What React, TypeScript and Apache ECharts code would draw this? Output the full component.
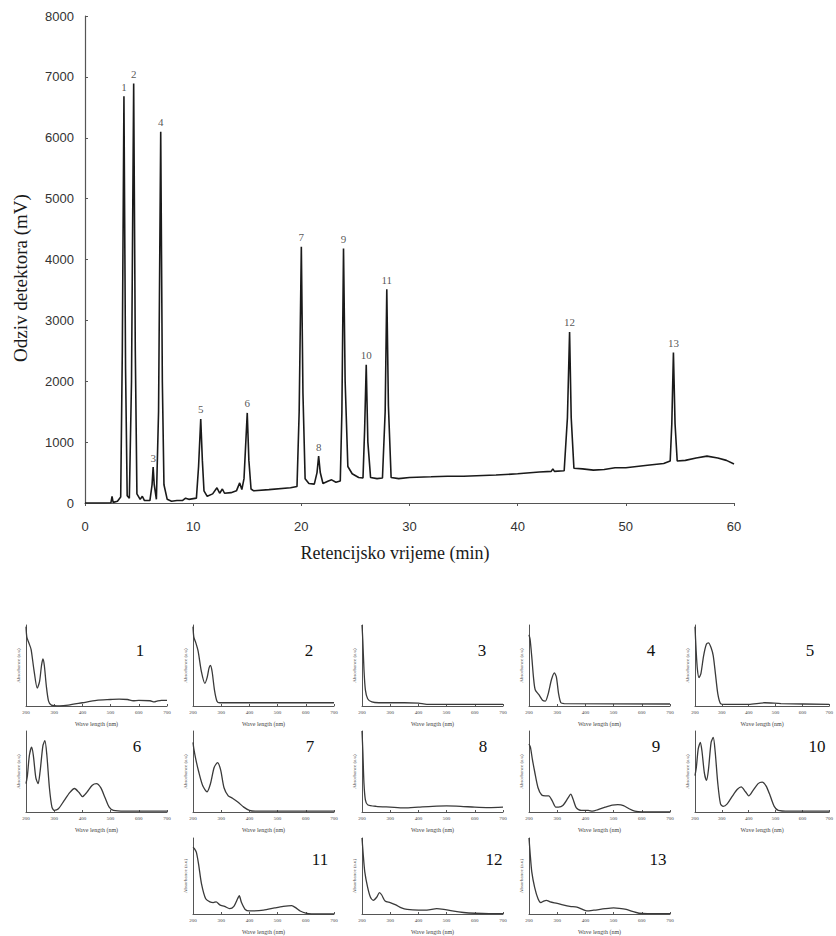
import React, { useEffect, useRef } from "react";
import * as echarts from "echarts";

// ---------- Chromatogram ----------
const chromTitleX = "Retencijsko vrijeme (min)";
const chromTitleY = "Odziv detektora (mV)";
const chromatogram: [number, number][] = [
  [0, 0], [1.8, 0], [2.4, 5], [2.5, 110], [2.6, 10], [3.0, 30], [3.3, 100], [3.45, 2500], [3.6, 6680], [3.75, 2200],
  [3.9, 120], [4.1, 80], [4.3, 2000], [4.5, 6890], [4.65, 2500], [4.8, 150], [5.1, 60], [5.3, 110], [5.5, 40], [6.0, 40],
  [6.2, 300], [6.3, 590], [6.4, 300], [6.6, 60], [6.8, 1500], [7.0, 6100], [7.15, 2000], [7.3, 300], [7.6, 60], [8.0, 30],
  [8.5, 40], [9.0, 40], [9.3, 80], [9.6, 60], [10.3, 80], [10.5, 600], [10.7, 1380], [10.85, 700], [11.0, 200], [11.3, 110],
  [11.8, 150], [12.2, 250], [12.45, 160], [12.7, 230], [12.9, 160], [13.5, 170], [14.0, 200], [14.3, 330], [14.5, 220], [14.7, 400],
  [15.0, 1480], [15.15, 700], [15.35, 230], [15.6, 200], [17, 220], [19, 250], [19.6, 270], [19.8, 1500], [20.0, 4210], [20.15, 1800],
  [20.35, 400], [20.7, 320], [21.2, 310], [21.45, 500], [21.6, 770], [21.75, 500], [22.0, 320], [22.5, 360], [22.8, 380], [23.2, 340],
  [23.6, 360], [23.75, 1500], [23.9, 4180], [24.05, 2000], [24.3, 600], [24.7, 480], [25.3, 420], [25.7, 410], [25.85, 1200], [26.0, 2270],
  [26.15, 1000], [26.4, 420], [27.0, 400], [27.5, 410], [27.75, 1500], [27.9, 3510], [28.05, 1600], [28.3, 420], [29, 400], [30, 420],
  [32, 430], [33.5, 440], [35, 440], [38, 460], [40, 480], [42, 510], [43.1, 520], [43.25, 560], [43.4, 520], [44.3, 530],
  [44.6, 1400], [44.8, 2810], [44.95, 1400], [45.2, 570], [46, 560], [47, 540], [48, 550], [49, 580], [50, 580], [52, 620],
  [53.5, 650], [54.1, 690], [54.25, 1300], [54.4, 2470], [54.55, 1300], [54.75, 690], [55.5, 700], [56.5, 740], [57.5, 770], [58.5, 740],
  [59.3, 700], [60, 640],
];
const peakNames = ["1", "2", "3", "4", "5", "6", "7", "8", "9", "10", "11", "12", "13"];
const peakTimes = [3.6, 4.5, 6.3, 7.0, 10.7, 15.0, 20.0, 21.6, 23.9, 26.0, 27.9, 44.8, 54.4];
const peakHeights = [6680, 6890, 590, 6100, 1380, 1480, 4210, 770, 4180, 2270, 3510, 2810, 2470];

// ---------- UV spectra (wavelength nm, relative absorbance) ----------
const spectrumTitleX = "Wave length (nm)";
const spectrumTitleY = "Absorbance (a.u)";
const spectrum1 = [[200,0.98],[203,0.85],[210,0.78],[218,0.7],[228,0.45],[240,0.22],[248,0.3],[255,0.5],[260,0.58],[265,0.5],[272,0.25],[280,0.06],[290,0.01],[320,0],[350,0.01],[400,0.04],[450,0.07],[500,0.08],[530,0.085],[560,0.08],[580,0.065],[600,0.07],[640,0.065],[655,0.05],[665,0.06],[680,0.07],[700,0.07]];
const spectrum2 = [[200,0.98],[203,0.85],[210,0.78],[218,0.68],[230,0.42],[242,0.28],[250,0.35],[257,0.47],[262,0.5],[268,0.42],[276,0.2],[285,0.06],[295,0.04],[400,0.04],[700,0.04]];
const spectrum3 = [[200,1.0],[203,0.8],[207,0.45],[212,0.2],[220,0.09],[235,0.05],[260,0.04],[350,0.04],[400,0.035],[430,0.02],[700,0.02]];
const spectrum4 = [[200,0.88],[204,0.82],[210,0.6],[216,0.35],[222,0.2],[235,0.14],[248,0.07],[258,0.06],[268,0.15],[280,0.33],[290,0.41],[297,0.36],[305,0.15],[313,0.04],[325,0.03],[700,0.025]];
const spectrum5 = [[200,0.98],[204,0.7],[209,0.45],[215,0.35],[222,0.4],[232,0.62],[242,0.76],[250,0.78],[260,0.72],[268,0.62],[276,0.4],[285,0.15],[295,0.03],[310,0.02],[400,0.02],[460,0.04],[520,0.03],[700,0.02]];
const spectrum6 = [[200,0.35],[205,0.45],[212,0.7],[220,0.8],[226,0.7],[235,0.42],[243,0.35],[250,0.5],[260,0.82],[267,0.88],[274,0.7],[283,0.3],[292,0.06],[300,0.02],[315,0.04],[335,0.14],[355,0.24],[372,0.29],[388,0.24],[400,0.19],[415,0.24],[435,0.33],[450,0.35],[465,0.3],[480,0.18],[495,0.06],[510,0.02],[550,0.01],[700,0.01]];
const spectrum7 = [[200,0.86],[203,0.78],[210,0.65],[220,0.5],[235,0.32],[250,0.25],[262,0.35],[275,0.55],[287,0.61],[298,0.52],[310,0.3],[325,0.2],[340,0.17],[360,0.12],[380,0.06],[400,0.02],[420,0.01],[700,0.01]];
const spectrum8 = [[200,1.0],[203,0.75],[207,0.35],[212,0.15],[220,0.09],[250,0.07],[300,0.06],[350,0.05],[400,0.06],[450,0.07],[500,0.075],[550,0.07],[600,0.06],[650,0.055],[700,0.06]];
const spectrum9 = [[200,0.84],[205,0.8],[212,0.65],[220,0.5],[232,0.3],[245,0.21],[258,0.2],[270,0.2],[282,0.14],[295,0.06],[305,0.06],[320,0.08],[338,0.17],[348,0.22],[356,0.16],[368,0.05],[385,0.02],[410,0.02],[425,0.01],[445,0.03],[470,0.06],[495,0.085],[515,0.09],[535,0.08],[555,0.04],[575,0.01],[600,0],[700,0]];
const spectrum10 = [[200,0.45],[205,0.55],[212,0.78],[220,0.86],[226,0.75],[235,0.48],[243,0.39],[250,0.52],[260,0.86],[268,0.92],[275,0.75],[285,0.35],[295,0.1],[305,0.07],[320,0.1],[340,0.2],[358,0.28],[372,0.31],[388,0.25],[400,0.2],[415,0.26],[435,0.35],[450,0.37],[465,0.32],[480,0.2],[495,0.07],[510,0.02],[550,0.01],[700,0.01]];
const spectrum11 = [[200,0.88],[205,0.86],[212,0.81],[220,0.65],[230,0.4],[245,0.2],[260,0.16],[272,0.15],[282,0.16],[295,0.12],[312,0.1],[330,0.07],[345,0.1],[358,0.2],[364,0.24],[372,0.15],[385,0.06],[400,0.04],[450,0.05],[490,0.08],[520,0.1],[550,0.11],[565,0.08],[580,0.04],[600,0.01],[620,0],[700,0]];
const spectrum12 = [[200,1.0],[204,0.8],[210,0.55],[220,0.35],[230,0.22],[240,0.18],[252,0.22],[262,0.28],[270,0.25],[282,0.17],[300,0.15],[320,0.12],[340,0.08],[360,0.06],[400,0.05],[430,0.05],[465,0.07],[490,0.06],[520,0.04],[560,0.02],[600,0.01],[650,0.005],[700,0.005]];
const spectrum13 = [[200,1.0],[204,0.8],[210,0.55],[220,0.35],[232,0.2],[242,0.15],[252,0.17],[262,0.18],[275,0.16],[300,0.14],[320,0.12],[345,0.1],[370,0.09],[390,0.06],[405,0.04],[430,0.05],[470,0.07],[500,0.08],[520,0.075],[545,0.06],[570,0.03],[590,0.01],[620,0.005],[700,0.005]];
const spectra = [spectrum1, spectrum2, spectrum3, spectrum4, spectrum5, spectrum6, spectrum7, spectrum8, spectrum9, spectrum10, spectrum11, spectrum12, spectrum13];
const spectrumNames = ["1", "2", "3", "4", "5", "6", "7", "8", "9", "10", "11", "12", "13"];

// ---------- layout (pixels) ----------
const colLefts = [26, 193, 362, 529, 695];
const rowTops = [625, 731, 838];
const numberRowY = [650, 746, 859];
const panelCells = [[0,0],[0,1],[0,2],[0,3],[0,4],[1,0],[1,1],[1,2],[1,3],[1,4],[2,1],[2,2],[2,3]];
const numberOffsets = [114, 116, 120, 122, 115, 111, 117, 121, 127, 122, 127, 132, 129];
const PANEL_W = 141;
const PANEL_H = 81;

export default function App() {
  const ref = useRef<HTMLDivElement>(null);
  useEffect(() => {
    if (!ref.current) return;
    const chart = echarts.init(ref.current, null, { renderer: "svg" });
    const serif = '"Liberation Serif", "DejaVu Serif", serif';
    const sans = '"Liberation Sans", Arial, sans-serif';

    const grids: any[] = [{ left: 85, top: 16, width: 649, height: 487 }];
    const xAxes: any[] = [{
      gridIndex: 0, type: "value", min: 0, max: 60, interval: 10,
      axisLine: { lineStyle: { color: "#555", width: 1.2 } },
      axisTick: { show: true, length: 3, lineStyle: { color: "#555" } },
      axisLabel: { color: "#333", fontSize: 13, fontFamily: sans, margin: 17, formatter: (v: number) => String(v) },
      splitLine: { show: false },
    }];
    const yAxes: any[] = [{
      gridIndex: 0, type: "value", min: 0, max: 8000, interval: 1000,
      axisLine: { show: true, lineStyle: { color: "#555", width: 1.2 } },
      axisTick: { show: true, inside: true, length: 3, lineStyle: { color: "#555" } },
      axisLabel: { color: "#333", fontSize: 13, fontFamily: sans, margin: 11, formatter: (v: number) => String(v) },
      splitLine: { show: false },
    }];
    const series: any[] = [
      {
        type: "line", xAxisIndex: 0, yAxisIndex: 0, data: chromatogram, showSymbol: false,
        lineStyle: { color: "#1a1a1a", width: 1.6 }, silent: true,
      },
      {
        type: "scatter", xAxisIndex: 0, yAxisIndex: 0, symbolSize: 0,
        itemStyle: { color: "#333" },
        data: peakNames.map((n, i) => ({ name: n, value: [peakTimes[i], peakHeights[i]] })),
        label: { show: true, position: "top", distance: 4, formatter: "{b}", fontFamily: serif, fontSize: 11, color: "#2a2a2a" },
        silent: true,
      },
    ];
    const graphics: any[] = [
      { type: "text", x: 395, y: 553, style: { text: chromTitleX, fontFamily: serif, fontSize: 18, fill: "#1a1a1a", align: "center", verticalAlign: "middle" } },
      { type: "text", x: 20, y: 278, rotation: Math.PI / 2, style: { text: chromTitleY, fontFamily: serif, fontSize: 19, fill: "#1a1a1a", align: "center", verticalAlign: "middle" } },
    ];

    spectra.forEach((sp, i) => {
      const [r, c] = panelCells[i];
      const left = colLefts[c];
      const top = rowTops[r];
      const gi = i + 1;
      grids.push({ left, top, width: PANEL_W, height: PANEL_H });
      xAxes.push({
        gridIndex: gi, type: "value", min: 200, max: 700, interval: 100,
        name: spectrumTitleX, nameLocation: "middle", nameGap: 15,
        nameTextStyle: { fontFamily: serif, fontSize: 6, color: "#444" },
        axisLine: { lineStyle: { color: "#555", width: 1 } },
        axisTick: { show: true, inside: true, length: 2, lineStyle: { color: "#555" } },
        axisLabel: { color: "#444", fontSize: 5, fontFamily: serif, margin: 4 },
        splitLine: { show: false },
      });
      yAxes.push({
        gridIndex: gi, type: "value", min: 0, max: 1,
        name: spectrumTitleY, nameLocation: "middle", nameGap: 5, nameRotate: 90,
        nameTextStyle: { fontFamily: serif, fontSize: 5, color: "#444" },
        axisLine: { show: true, lineStyle: { color: "#555", width: 1 } },
        axisTick: { show: false }, axisLabel: { show: false }, splitLine: { show: false },
      });
      series.push({
        type: "line", xAxisIndex: gi, yAxisIndex: gi, data: sp, showSymbol: false, smooth: 0.25,
        lineStyle: { color: "#3a3a3a", width: 1.3 }, silent: true,
      });
      graphics.push({
        type: "text", x: left + numberOffsets[i], y: numberRowY[r],
        style: { text: spectrumNames[i], fontFamily: serif, fontSize: 17, fill: "#111", align: "center", verticalAlign: "middle" },
      });
    });

    chart.setOption({
      animation: false,
      backgroundColor: "#fff",
      grid: grids,
      xAxis: xAxes,
      yAxis: yAxes,
      series,
      graphic: graphics,
    });
    return () => chart.dispose();
  }, []);
  return <div ref={ref} style={{ position: "absolute", left: 0, top: 0, width: 836, height: 936 }} />;
}
